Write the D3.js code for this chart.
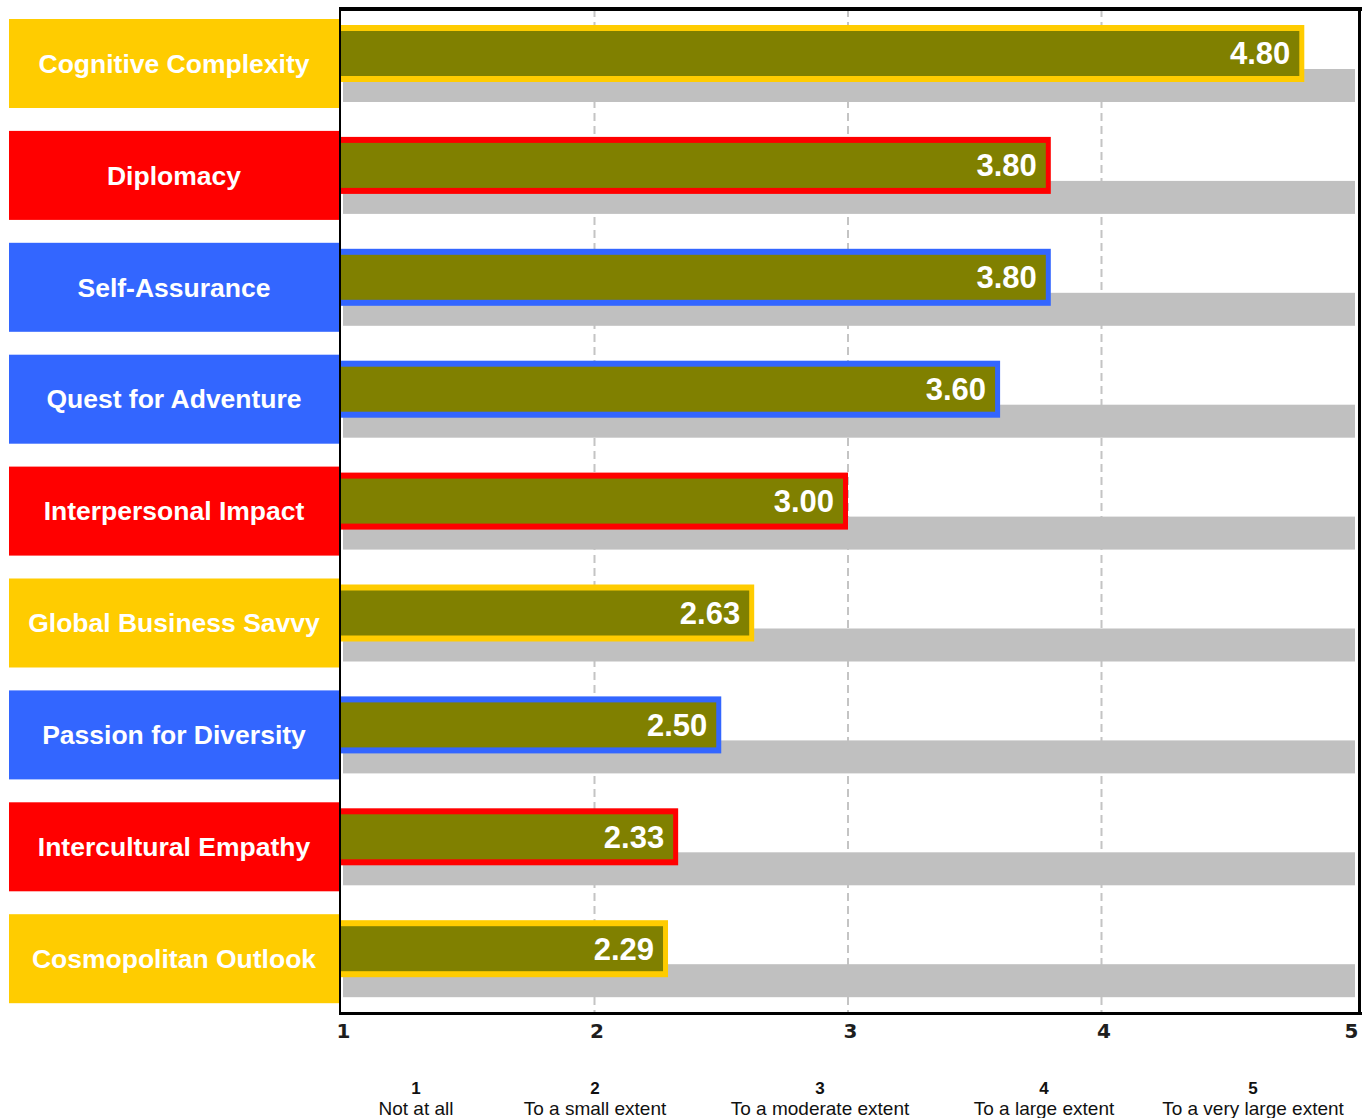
<!DOCTYPE html>
<html>
<head>
<meta charset="utf-8">
<script src="https://cdn.jsdelivr.net/npm/d3@7/dist/d3.min.js"></script>
<style>
  html, body { margin: 0; padding: 0; background: #ffffff; }
  svg { display: block; }
</style>
</head>
<body>
<svg id="chart" width="1364" height="1118"></svg>
<script>
// Competency scores on a 1-5 rating scale
const categories = [
  "Cognitive Complexity",
  "Diplomacy",
  "Self-Assurance",
  "Quest for Adventure",
  "Interpersonal Impact",
  "Global Business Savvy",
  "Passion for Diversity",
  "Intercultural Empathy",
  "Cosmopolitan Outlook"
];
const scores = [4.80, 3.80, 3.80, 3.60, 3.00, 2.63, 2.50, 2.33, 2.29];
// Capital each competency belongs to
const capitals = [
  "intellectual", "social", "psychological", "psychological", "social",
  "intellectual", "psychological", "social", "intellectual"
];
const scaleTicks = [1, 2, 3, 4, 5];
const scaleLabels = [
  "Not at all",
  "To a small extent",
  "To a moderate extent",
  "To a large extent",
  "To a very large extent"
];

// Styling
const capitalColor = {
  intellectual: "#FFCC00",
  social: "#FF0000",
  psychological: "#3366FF"
};
const barFill = "#808000";
const trackFill = "#C0C0C0";
const labelFont = "'Liberation Sans', Arial, sans-serif";
const legendCenters = [416, 595, 820, 1044, 1253];

const svg = d3.select("#chart");

const x = d3.scaleLinear().domain([1, 5]).range([341, 1355]);
const step = 111.9;
const y = d3.scaleBand()
  .domain(categories)
  .range([13, 13 + step * categories.length])
  .paddingInner(0).paddingOuter(0);

const plotTop = 9, plotBottom = 1013;

// Dashed reference lines at each scale point
svg.append("g")
  .selectAll("line")
  .data(scaleTicks.filter(t => t > 1 && t < 5))
  .join("line")
  .attr("x1", d => x(d)).attr("x2", d => x(d))
  .attr("y1", plotTop).attr("y2", plotBottom)
  .attr("stroke", "#c4c4c4")
  .attr("stroke-width", 2)
  .attr("stroke-dasharray", "8,5");

const rows = categories.map((c, i) => ({
  name: c, value: scores[i], color: capitalColor[capitals[i]]
}));

// Category label boxes
const labels = svg.append("g");
labels.selectAll("rect")
  .data(rows)
  .join("rect")
  .attr("x", 9)
  .attr("y", d => y(d.name) + 6)
  .attr("width", 330)
  .attr("height", 89)
  .attr("fill", d => d.color);
labels.selectAll("text")
  .data(rows)
  .join("text")
  .attr("x", 174)
  .attr("y", d => y(d.name) + 6 + 44.5)
  .attr("dy", "0.35em")
  .attr("text-anchor", "middle")
  .attr("fill", "#ffffff")
  .attr("font-family", labelFont)
  .attr("font-weight", "bold")
  .attr("font-size", "26.5px")
  .text(d => d.name);

// Grey full-scale tracks
svg.append("g")
  .selectAll("rect")
  .data(rows)
  .join("rect")
  .attr("x", 343)
  .attr("y", d => y(d.name) + 56)
  .attr("width", x(5) - 343)
  .attr("height", 33)
  .attr("fill", trackFill);

// Score bars: coloured frame with olive face
const bars = svg.append("g");
const bw = 6;
bars.selectAll("rect.frame")
  .data(rows)
  .join("rect")
  .attr("class", "frame")
  .attr("x", x(1))
  .attr("y", d => y(d.name) + 12)
  .attr("width", d => x(d.value) - x(1))
  .attr("height", 57)
  .attr("fill", d => d.color);
bars.selectAll("rect.face")
  .data(rows)
  .join("rect")
  .attr("class", "face")
  .attr("x", x(1))
  .attr("y", d => y(d.name) + 12 + bw)
  .attr("width", d => x(d.value) - x(1) - bw + 1)
  .attr("height", 57 - 2 * bw)
  .attr("fill", barFill);
bars.selectAll("text")
  .data(rows)
  .join("text")
  .attr("x", d => x(d.value) - 14)
  .attr("y", d => y(d.name) + 12 + 28.5)
  .attr("dy", "0.35em")
  .attr("text-anchor", "end")
  .attr("fill", "#ffffff")
  .attr("font-family", labelFont)
  .attr("font-weight", "bold")
  .attr("font-size", "31px")
  .text(d => d3.format(".2f")(d.value));

// Plot frame
const frame = svg.append("g").attr("fill", "#000");
frame.append("rect").attr("x", 339).attr("y", 7).attr("width", 1362 - 339).attr("height", 4);
frame.append("rect").attr("x", 339).attr("y", 7).attr("width", 2).attr("height", plotBottom + 2 - 7);
frame.append("rect").attr("x", 1358).attr("y", 7).attr("width", 3).attr("height", plotBottom + 2 - 7);
frame.append("rect").attr("x", 339).attr("y", 1012).attr("width", 1362 - 339).attr("height", 3);

// Scale axis numbers
const axis = d3.axisBottom(x)
  .tickValues(scaleTicks)
  .tickFormat(d3.format("d"))
  .tickSize(0)
  .tickPadding(0);
const axisG = svg.append("g")
  .attr("transform", `translate(0, ${plotBottom + 2})`)
  .call(axis);
axisG.select(".domain").remove();
axisG.selectAll("text")
  .attr("y", 23)
  .attr("dy", 0)
  .attr("dx", d => d === 5 ? -4 : 2)
  .attr("fill", "#1e1e1e")
  .attr("font-family", "'DejaVu Sans', Verdana, sans-serif")
  .attr("font-weight", "bold")
  .attr("font-size", "20px");

// Scale legend
const legend = svg.append("g")
  .attr("font-family", labelFont)
  .attr("fill", "#111")
  .attr("text-anchor", "middle");
legend.selectAll("text.num")
  .data(scaleTicks)
  .join("text")
  .attr("class", "num")
  .attr("x", (d, i) => legendCenters[i])
  .attr("y", 1094)
  .attr("font-weight", "bold")
  .attr("font-size", "17px")
  .text(d => d);
legend.selectAll("text.desc")
  .data(scaleLabels)
  .join("text")
  .attr("class", "desc")
  .attr("x", (d, i) => legendCenters[i])
  .attr("y", 1115)
  .attr("font-size", "19px")
  .text(d => d);
</script>
</body>
</html>
